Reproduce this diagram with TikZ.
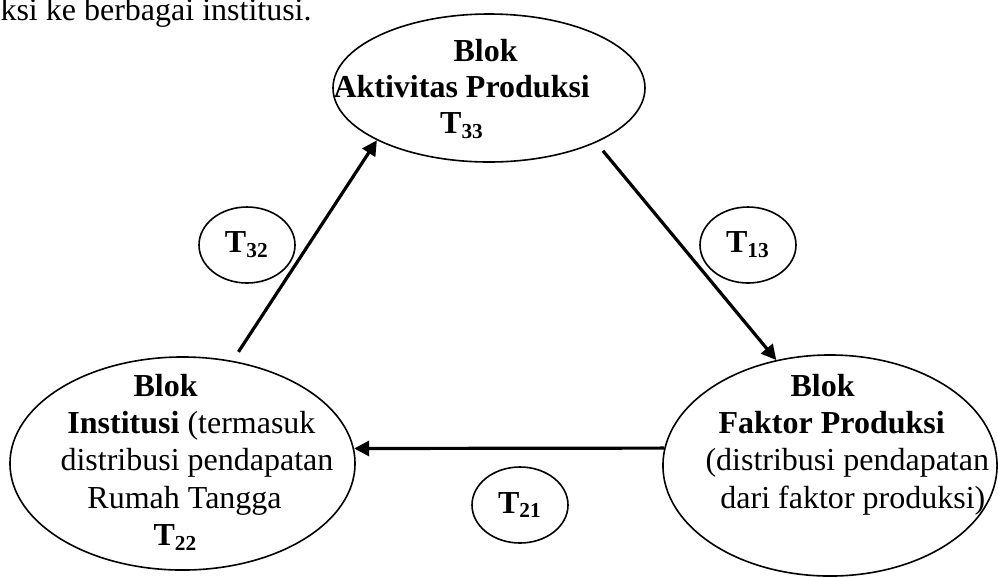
\documentclass[tikz,border=0pt]{standalone}
\usepackage{fontspec}
\setmainfont{Liberation Serif}
\usetikzlibrary{shapes, arrows.meta, positioning}

\begin{document}
\begin{tikzpicture}[x=0.375pt, y=-0.375pt,
    font=\fontsize{12}{14}\selectfont,
    blok/.style={draw, ellipse, line width=0.6pt, inner sep=0pt},
    tbox/.style={draw, ellipse, line width=0.6pt, inner sep=0pt,
      minimum width=36pt, minimum height=28.5pt, font=\fontsize{12}{14}\selectfont\bfseries},
    isi/.style={anchor=north west, align=left, inner sep=0pt},
    flow/.style={line width=1.2pt, -{Triangle[length=5.6pt, width=5.6pt]}}]
  \useasboundingbox (0, 0) rectangle (998, 577);

  \node[anchor=base west, inner sep=0pt] (kalimat) at (0, 20) {ksi ke berbagai institusi.};

  % Blok
  \node[blok, minimum width=117pt, minimum height=55.5pt] (akt) at (489, 88) {};
  \node[blok, minimum width=129.4pt, minimum height=79.9pt] (inst) at (182.5, 463.5) {};
  \node[blok, minimum width=125.3pt, minimum height=82.9pt] (fak) at (830, 465.5) {};

  \node[isi, font=\fontsize{12}{13.6}\selectfont] (aktteks) at (333, 38.4)
    {\hspace*{45pt}\textbf{Blok}\\
     \textbf{Aktivitas Produksi}\\
     \hspace*{40pt}\textbf{T\textsubscript{33}}};
  \node[isi] (instteks) at (60, 373.4)
    {\hspace*{27.4pt}\textbf{Blok}\\
     \hspace*{2.6pt}\textbf{Institusi} (termasuk\\
     distribusi pendapatan\\
     \hspace*{10.1pt}Rumah Tangga\\
     \hspace*{34.9pt}\textbf{T\textsubscript{22}}};
  \node[isi] (fakteks) at (705, 373.4)
    {\hspace*{31.9pt}\textbf{Blok}\\
     \hspace*{4.9pt}\textbf{Faktor Produksi}\\
     (distribusi pendapatan\\
     \hspace*{5.6pt}dari faktor produksi)};

  % Transaksi
  \node[tbox] (t32) at (247, 245) {T\textsubscript{32}};
  \node[tbox] (t13) at (748, 245) {T\textsubscript{13}};
  \node[tbox] (t21) at (520, 505) {T\textsubscript{21}};

  \draw[flow, shorten <=4pt] (inst.64) -- (akt.205);
  \draw[flow, shorten <=4pt] (akt.333) -- (fak.117);
  \draw[flow] (fak.174) -- (inst.5);
\end{tikzpicture}
\end{document}
